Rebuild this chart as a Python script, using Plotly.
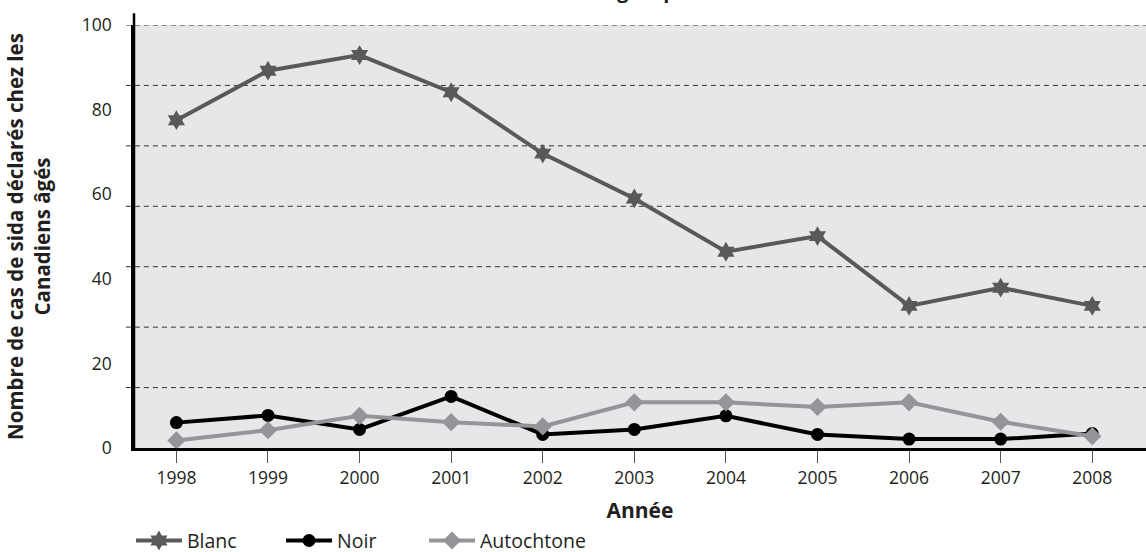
import plotly.graph_objects as go

years = [1998, 1999, 2000, 2001, 2002, 2003, 2004, 2005, 2006, 2007, 2008]
blanc = [77.5, 89.2, 92.9, 84.1, 69.6, 59.0, 46.4, 50.1, 33.6, 37.9, 33.6]
noir = [6.0, 7.7, 4.4, 12.2, 3.2, 4.4, 7.6, 3.2, 2.1, 2.1, 3.4]
autochtone = [1.8, 4.2, 7.6, 6.1, 5.1, 10.8, 10.8, 9.7, 10.8, 6.2, 2.8]
y_tick_vals = [0, 20, 40, 60, 80, 100]
grid_vals = [i * 100 / 7 for i in range(1, 8)]

FONT = "Open Sans"
TXT = "#231f20"

fig = go.Figure()
fig.add_trace(go.Scatter(x=years, y=blanc, name="Blanc", mode="lines+markers", legend="legend",
                         line=dict(color="#58595b", width=4),
                         marker=dict(symbol="hexagram", size=15, color="#58595b")))
fig.add_trace(go.Scatter(x=years, y=noir, name="Noir", mode="lines+markers", legend="legend2",
                         line=dict(color="#000000", width=4),
                         marker=dict(symbol="circle", size=13, color="#000000")))
fig.add_trace(go.Scatter(x=years, y=autochtone, name="Autochtone", mode="lines+markers", legend="legend3",
                         line=dict(color="#939598", width=4),
                         marker=dict(symbol="diamond", size=14, color="#939598")))

shapes = []
for g in grid_vals:
    shapes.append(dict(type="line", xref="paper", yref="y", x0=-0.008, x1=1, y0=g, y1=g,
                       line=dict(color="#333333", width=1, dash="5px,4px"), layer="below"))
shapes.append(dict(type="line", xref="paper", yref="paper", x0=0, x1=0, y0=0, y1=1.028,
                   line=dict(color="#000000", width=2.5)))

def leg(x):
    return dict(orientation="h", x=x, xanchor="left", y=-0.2195, yanchor="middle",
                font=dict(size=19.5, color=TXT), itemwidth=46, bgcolor="rgba(0,0,0,0)")

fig.update_layout(
    width=1146, height=572,
    margin=dict(l=134, r=0, t=25, b=124.3, autoexpand=False),
    paper_bgcolor="white", plot_bgcolor="#e6e7e8",
    font=dict(family=FONT, size=17.5, color=TXT),
    shapes=shapes,
    showlegend=True,
    legend=leg(-0.003), legend2=leg(0.1453), legend3=leg(0.2866),
    annotations=[dict(text="<b>Cas de sida déclarés selon le groupe racial chez les aînés</b>",
                      xref="paper", yref="paper", x=0.5, y=1, xanchor="center", yanchor="bottom",
                      xshift=-30, yshift=19, showarrow=False, font=dict(size=20, color=TXT))],
)
fig.update_xaxes(range=[1997.537, 2008.587], tickvals=years, ticks="outside", ticklen=12,
                 tickcolor="#555555", tickwidth=1, showline=True, linecolor="#000000", linewidth=2.5,
                 showgrid=False, zeroline=False, automargin=False,
                 title=dict(text="<b>Année</b>", font=dict(size=21, color=TXT), standoff=16))
fig.update_yaxes(range=[0, 100], tickvals=y_tick_vals, ticks="outside", ticklen=16,
                 tickcolor="rgba(0,0,0,0)", showline=True, linecolor="#000000", linewidth=2.5,
                 showgrid=False, zeroline=False, automargin=False,
                 title=dict(text="<b>Nombre de cas de sida déclarés chez les<br>Canadiens âgés</b>",
                            font=dict(size=20.5, color=TXT), standoff=26))

fig.write_html("out.html", config={"displayModeBar": False},
               post_script="document.body.style.margin='0';document.body.style.overflow='hidden';"
                           "document.documentElement.style.overflow='hidden';")
